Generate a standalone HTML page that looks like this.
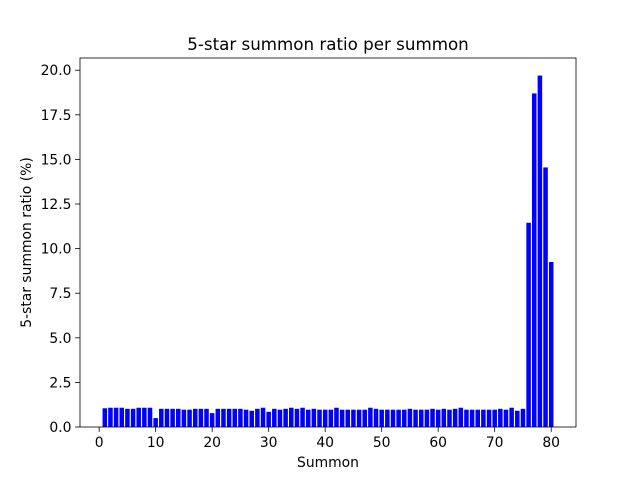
<!DOCTYPE html>
<html><head><meta charset="utf-8"><style>body{margin:0;background:#fff}svg{display:block;font-family:"DejaVu Sans","Liberation Sans",sans-serif}</style></head>
<body>
<svg id="c" width="640" height="480" xmlns="http://www.w3.org/2000/svg"></svg>
<script>
const summons = Array.from({length:80},(_,i)=>i+1);
const ratios = [1.05,1.08,1.08,1.08,1.02,1.02,1.08,1.08,1.08,0.5,
1.02,1.02,1.02,1.02,0.97,0.97,1.02,1.02,1.02,0.78,
1.02,1.02,1.02,1.02,1.02,0.97,0.91,1.02,1.08,0.85,
1.02,0.97,1.02,1.08,1.02,1.08,0.97,1.02,0.97,0.97,
0.97,1.08,0.97,0.97,0.97,0.97,0.97,1.08,1.02,0.97,
0.97,0.97,0.97,0.97,1.02,0.97,0.97,0.97,1.02,0.97,
1.02,0.97,1.02,1.08,0.97,0.97,0.97,0.97,0.97,0.97,
1.02,0.97,1.08,0.91,1.02,11.45,18.7,19.7,14.55,9.25];
const xTicks = [0,10,20,30,40,50,60,70,80];
const yTicks = [0,2.5,5,7.5,10,12.5,15,17.5,20];
const yTickLabels = ["0.0","2.5","5.0","7.5","10.0","12.5","15.0","17.5","20.0"];
const L=80,R=576,T=58,B=427;
const xmin=-3.39,xmax=84.39,ymin=0,ymax=20.685;
const X=v=>L+(v-xmin)/(xmax-xmin)*(R-L);
const Y=v=>B-(v-ymin)/(ymax-ymin)*(B-T);
const svg=document.getElementById('c');
const NS='http://www.w3.org/2000/svg';
function mk(tag,attrs,parent){const e=document.createElementNS(NS,tag);for(const k in attrs)e.setAttribute(k,attrs[k]);(parent||svg).appendChild(e);return e;}
const g=mk('g',{});


summons.forEach((s,i)=>{
  const r=mk('rect',{x:X(s-0.4),y:Y(ratios[i]),width:X(s+0.4)-X(s-0.4),height:Y(0)-Y(ratios[i]),fill:'#0000ff'},g);
  
  
});
const frame=mk('rect',{x:L,y:T,width:R-L,height:B-T,fill:'none',stroke:'#000','stroke-width':0.8});


xTicks.forEach(t=>{
  const x=X(t);
  const l=mk('line',{x1:x,x2:x,y1:B,y2:B+4.9,stroke:'#000','stroke-width':0.8});
  
  
  const tx=mk('text',{x:x,y:B+20,'font-size':13.9,'text-anchor':'middle'});
  tx.textContent=t;
  
  
});
yTicks.forEach((t,i)=>{
  const y=Y(t);
  const l=mk('line',{x1:L-4.9,x2:L,y1:y,y2:y,stroke:'#000','stroke-width':0.8});
  
  
  const tx=mk('text',{x:L-8.5,y:y+5,'font-size':13.9,'text-anchor':'end'});
  tx.textContent=yTickLabels[i];
  
  
});
const title=mk('text',{x:(L+R)/2,y:50,'font-size':16.7,'text-anchor':'middle'});
title.textContent='5-star summon ratio per summon';


const xl=mk('text',{x:(L+R)/2,y:467,'font-size':13.9,'text-anchor':'middle'});
xl.textContent='Summon';


const yc=(T+B)/2;
const yl=mk('text',{x:31,y:yc,'font-size':13.9,'text-anchor':'middle',transform:'rotate(-90 31 '+yc+')'});
yl.textContent='5-star summon ratio (%)';


</script>
</body></html>
